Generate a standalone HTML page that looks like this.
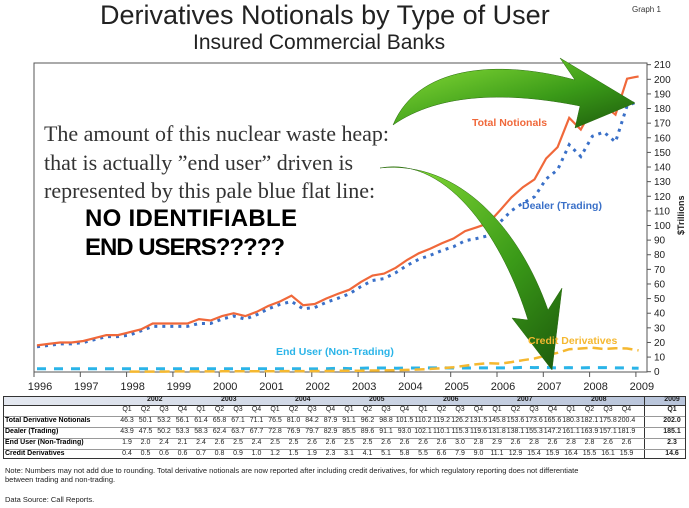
<!DOCTYPE html>
<html><head><meta charset="utf-8"><style>
body{margin:0;width:689px;height:508px;background:#fff;position:relative;overflow:hidden;font-family:"Liberation Sans",sans-serif}
.a{position:absolute;white-space:nowrap}
.t{font-size:7px;color:#222;text-align:center;width:24px;margin-left:-12px}
.rl{font-size:7px;font-weight:bold;left:5px}
</style></head><body>
<div class="a" style="left:100px;top:0px;font-size:27px;color:#222;">Derivatives Notionals by Type of User</div>
<div class="a" style="left:193px;top:31px;font-size:21px;color:#222;">Insured Commercial Banks</div>
<div class="a" style="left:632px;top:5px;font-size:8px;color:#333;">Graph 1</div>
<svg id="chart" width="689" height="396" style="position:absolute;left:0;top:0">
<defs><linearGradient id="g1" x1="0" y1="0" x2="1" y2="1"><stop offset="0" stop-color="#8ee23a"/><stop offset="0.6" stop-color="#3a9a18"/><stop offset="1" stop-color="#1d5a0c"/></linearGradient></defs>
<rect x="34" y="63" width="613" height="309" fill="none" stroke="#555" stroke-width="1"/>
<g id="axes"></g><g id="series"></g>
<path d="M393,125 C420,60 510,62 575,80 L560,58 L635,103 L575,128 L580,106 C510,92 440,92 393,125 Z" fill="url(#g1)" stroke="#2a6a10" stroke-width="0.5"/>
<path d="M380,168 C450,155 505,245 528,320 L512,318 L552,370 L562,288 L548,310 C520,230 460,160 380,168 Z" fill="url(#g1)" stroke="#2a6a10" stroke-width="0.5"/>
<text x="472" y="126" font-size="10.5" font-weight="bold" fill="#f0683a">Total Notionals</text>
<text x="522" y="209" font-size="10.5" font-weight="bold" fill="#3a70c8">Dealer (Trading)</text>
<text x="276" y="355" font-size="10.5" font-weight="bold" fill="#2ab4e8">End User (Non-Trading)</text>
<text x="528" y="344" font-size="10.5" font-weight="bold" fill="#f5b830">Credit Derivatives</text>
<text transform="translate(684,235) rotate(-90)" font-size="9" font-weight="bold" fill="#222">$Trillions</text>
<g font-family="Liberation Serif" font-size="22" fill="#333">
<text x="44" y="141" textLength="345">The amount of this nuclear waste heap:</text>
<text x="44" y="170">that is actually ”end user” driven is</text>
<text x="44" y="198">represented by this pale blue flat line:</text></g>
<g font-size="24" font-weight="bold" fill="#000">
<text x="85" y="226" textLength="212">NO IDENTIFIABLE</text><text x="85" y="255" textLength="200">END USERS?????</text></g>
</svg>
<div id="table" style="position:absolute;left:3px;top:396px;width:683px;height:63px;border:1px solid #333;box-sizing:border-box">
<div style="position:absolute;left:0;top:0;width:681px;height:8px;background:linear-gradient(90deg,#e4e8f0,#b8c4da)"></div>
<div style="position:absolute;left:640px;top:0;width:1px;height:62px;background:#333"></div>
<div style="position:absolute;left:0;top:8px;width:681px;height:1px;background:#333"></div>
</div>
<div id="tcells"></div>
<div class="a" style="left:5px;top:466px;font-size:7.5px;color:#222;line-height:9px">Note: Numbers may not add due to rounding. Total derivative notionals are now reported after including credit derivatives, for which regulatory reporting does not differentiate<br>between trading and non-trading.</div>
<div class="a" style="left:5px;top:495px;font-size:7.5px;color:#222">Data Source: Call Reports.</div>
<script>
const years=["1996","1997","1998","1999","2000","2001","2002","2003","2004","2005","2006","2007","2008","2009"];
const yTicks=[0,10,20,30,40,50,60,70,80,90,100,110,120,130,140,150,160,170,180,190,200,210];
const total=[18,19,20,20,21,23,25,25,27,29,33,33,33,33,36,35,38,40,38,41,45,48,52,45.5,46.3,50.1,53.2,56.1,61.4,65.8,67.1,71.1,76.5,81.0,84.2,87.9,91.1,96.2,98.8,101.5,110.2,119.2,126.2,131.5,145.8,153.6,173.6,165.6,180.3,182.1,175.8,200.4,202.0];
const dealer=[17,18,19,19,20,22,24,24,25,28,31,31,31,31,33,33,36,38,36,39,43,46,48,43,43.9,47.5,50.2,53.3,58.3,62.4,63.7,67.7,72.8,76.9,79.7,82.9,85.5,89.6,91.1,93.0,102.1,110.1,115.3,119.6,131.8,138.1,155.3,147.2,161.1,163.9,157.1,181.9,185.1];
const endUser=[2,2,2,2,2,2,2,2,2,2,2,2,2,2,2,2,2,2,2,2,2,2,2,2,1.9,2.0,2.4,2.1,2.4,2.6,2.5,2.4,2.5,2.5,2.6,2.6,2.5,2.5,2.6,2.6,2.6,2.6,3.0,2.8,2.9,2.6,2.8,2.6,2.8,2.8,2.6,2.6,2.3];
const creditStart=8;
const credit=[0.1,0.1,0.1,0.1,0.2,0.2,0.2,0.2,0.3,0.3,0.3,0.3,0.3,0.4,0.4,0.4,0.4,0.5,0.6,0.6,0.7,0.8,0.9,1.0,1.2,1.5,1.9,2.3,3.1,4.1,5.1,5.8,5.5,6.6,7.9,9.0,11.1,12.9,15.4,15.9,16.4,15.5,16.1,15.9,14.6];
const NS="http://www.w3.org/2000/svg";
function xs(i){return 37+i*11.57;}
function xYear(i){return 34+i*46.3;}
function ys(v){return 371.7-v*1.462;}
const ax=document.getElementById('axes'),se=document.getElementById('series');
function mk(tag,at,par){const e=document.createElementNS(NS,tag);for(const k in at)e.setAttribute(k,at[k]);par.appendChild(e);return e;}
yTicks.forEach(v=>{const t=mk('text',{x:654,y:ys(v)+3.5,'font-size':10,fill:'#222'},ax);t.textContent=v;


mk('line',{x1:647,x2:651,y1:ys(v),y2:ys(v),stroke:'#555'},ax);});
years.forEach((y,i)=>{const t=mk('text',{x:xYear(i)+6,y:390,'font-size':11,fill:'#222','text-anchor':'middle'},ax);t.textContent=y;


mk('line',{x1:xYear(i),x2:xYear(i),y1:372,y2:377,stroke:'#555'},ax);});
function line(arr,start,st,name){const p=arr.map((v,i)=>xs(i+start).toFixed(1)+','+ys(v).toFixed(1)).join(' ');
const e=mk('polyline',Object.assign({points:p,fill:'none'},st),se);

}
line(endUser,0,{stroke:'#2ab4e8','stroke-width':3,'stroke-dasharray':'9 8'},'end-user-line');
line(credit,creditStart,{stroke:'#f5b830','stroke-width':2.5,'stroke-dasharray':'10 5'},'credit-derivatives-line');
line(dealer,0,{stroke:'#3a70c8','stroke-width':3,'stroke-dasharray':'3 5'},'dealer-line');
line(total,0,{stroke:'#f0683a','stroke-width':2.2},'total-notionals-line');
const tc=document.getElementById('tcells');
function cell(txt,x,y,cls,extra){const d=document.createElement('div');d.className='a '+cls;d.style.left=x+'px';d.style.top=y+'px';if(extra)d.style.cssText+=extra;d.textContent=txt;tc.appendChild(d);return d;}
const tYears=["2002","2003","2004","2005","2006","2007","2008"];
function cx(i){return 127+i*18.5;}
tYears.forEach((y,i)=>{const d=cell(y,cx(i*4+1.5),396,'t','font-weight:bold');

});
const d9=cell("2009",672,396,'t','font-weight:bold');


for(let i=0;i<28;i++)cell('Q'+(i%4+1),cx(i),406,'t');
cell('Q1',672,406,'t','font-weight:bold');
const rows=[["Total Derivative Notionals",total],["Dealer (Trading)",dealer],["End User (Non-Trading)",endUser],["Credit Derivatives",credit]];
rows.forEach((r,k)=>{const y=417+k*11;const l=cell(r[0],5,y,'rl');


const a=r[1],n=a.length;for(let i=0;i<29;i++){const v=a[n-29+i];cell(v.toFixed(1),i<28?cx(i):672,y,'t',i==28?'font-weight:bold':'');}
const ln=document.createElement('div');ln.className='a';ln.style.cssText='left:4px;width:681px;height:1px;background:#999;top:'+(y-1)+'px';tc.appendChild(ln);});
</script>
</body></html>
